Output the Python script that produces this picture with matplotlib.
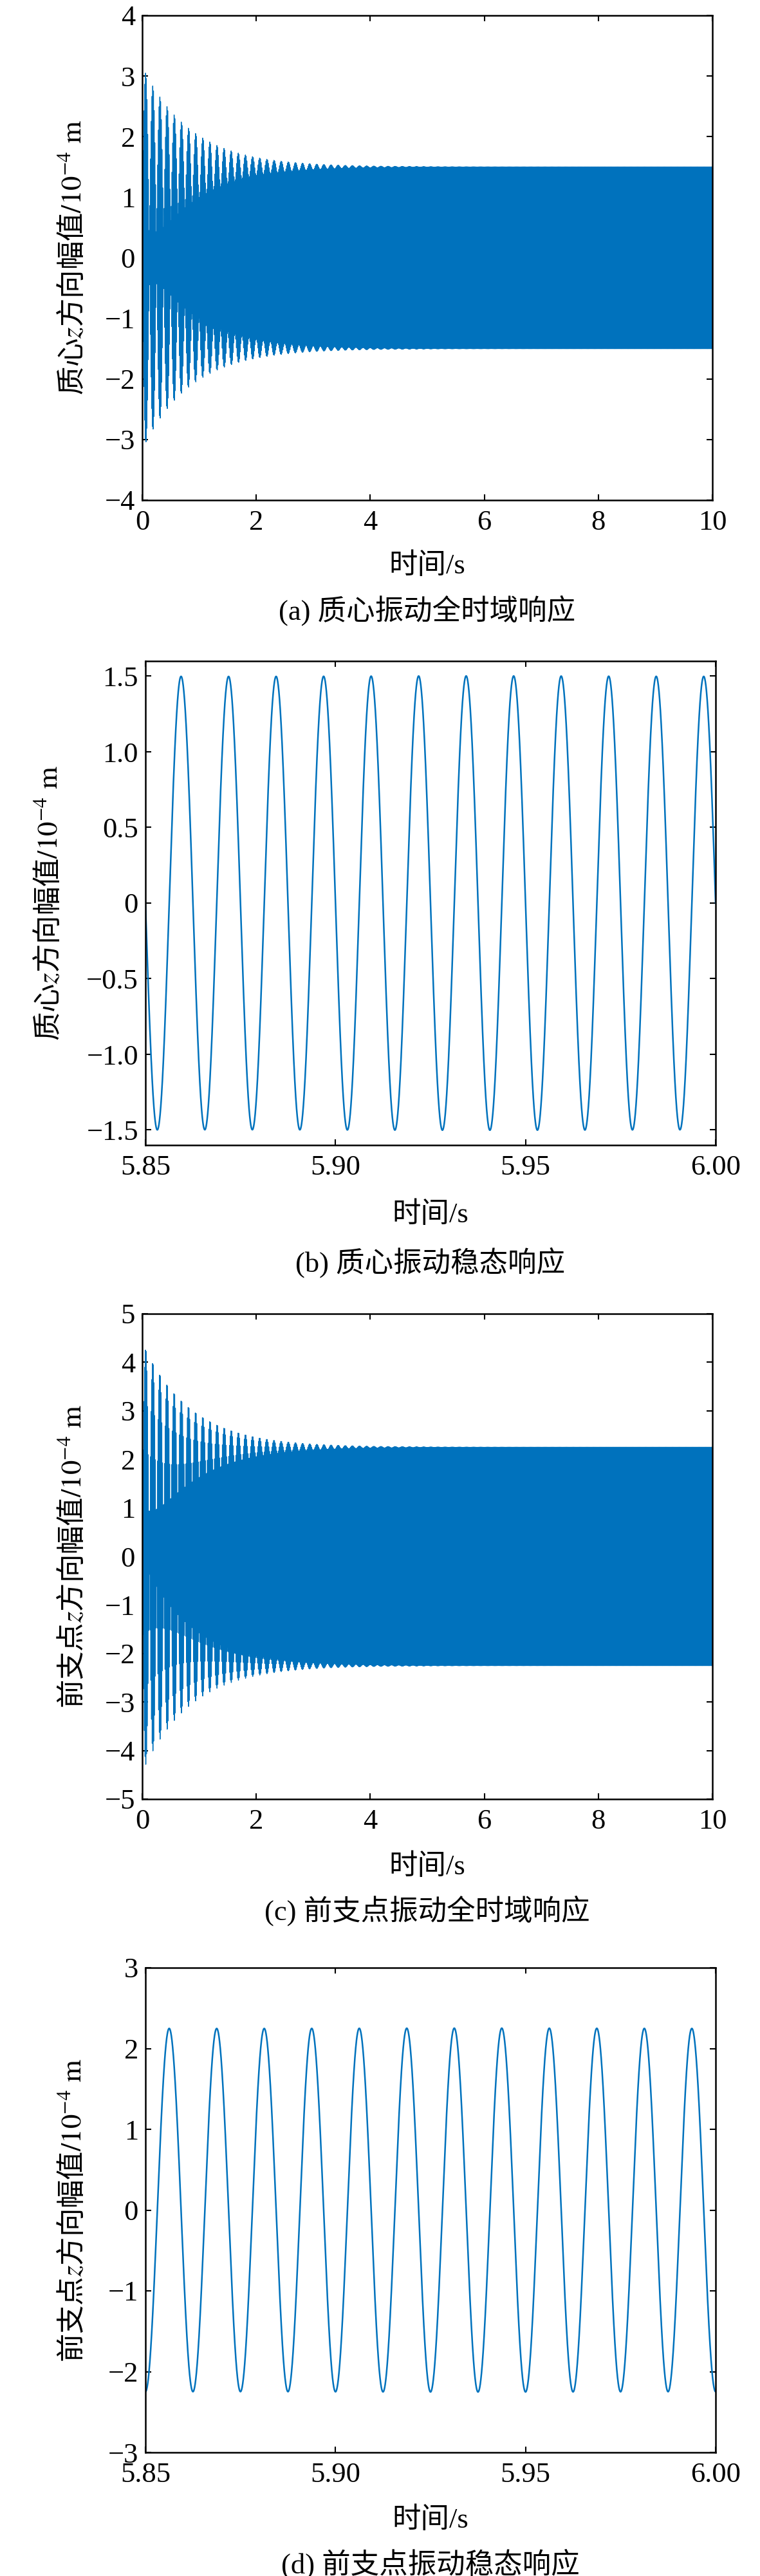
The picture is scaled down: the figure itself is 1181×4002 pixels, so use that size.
# 质心与前支点 z 向振动响应（全时域 + 稳态局部放大）

import numpy as np
import matplotlib
matplotlib.use('Agg')
import matplotlib.pyplot as plt

plt.rcParams['font.family'] = ['Liberation Serif', 'Noto Sans CJK SC']
plt.rcParams['mathtext.fontset'] = 'stix'
plt.rcParams['axes.unicode_minus'] = True

# 参数
f_force = 80.0      # 激励频率 Hz（稳态图中 0.15 s 内 12 个周期）
f_free = 88.0       # 自由振动频率 Hz（拍频约 8 Hz）
tau = 0.85          # 自由振动衰减时间常数 s
amp_cg = 1.5        # 质心稳态幅值 1e-4 m
amp_cg_tr = 1.67    # 质心初始瞬态幅值
amp_fr = 2.25       # 前支点稳态幅值
amp_fr_tr = 2.19    # 前支点初始瞬态幅值

t = np.arange(0, 10.0 + 1e-9, 2e-5)
w, wn = 2 * np.pi * f_force, 2 * np.pi * f_free
z_cg = -amp_cg * np.sin(w * t) + amp_cg_tr * np.exp(-t / tau) * np.sin(wn * t)
z_fr = -amp_fr * np.cos(w * t) + amp_fr_tr * np.exp(-t / tau) * np.cos(wn * t)

zsym = r'$z$'
unit = r'$/\mathrm{10}^{-4}\ \mathrm{m}$'
ylabels = ['质心' + zsym + '方向幅值' + unit, '质心' + zsym + '方向幅值' + unit,
           '前支点' + zsym + '方向幅值' + unit, '前支点' + zsym + '方向幅值' + unit]
captions = ['(a) 质心振动全时域响应', '(b) 质心振动稳态响应',
            '(c) 前支点振动全时域响应', '(d) 前支点振动稳态响应']
xlims = [(0, 10), (5.85, 6.0), (0, 10), (5.85, 6.0)]
xticks_full = [0, 2, 4, 6, 8, 10]
xticks_zoom = [5.85, 5.90, 5.95, 6.00]
xticklabels_zoom = ['5.85', '5.90', '5.95', '6.00']
ylims = [(-4, 4), (-1.6, 1.6), (-5, 5), (-3, 3)]
yticks = [[-4, -3, -2, -1, 0, 1, 2, 3, 4],
          [-1.5, -1.0, -0.5, 0, 0.5, 1.0, 1.5],
          [-5, -4, -3, -2, -1, 0, 1, 2, 3, 4, 5],
          [-3, -2, -1, 0, 1, 2, 3]]
yticklabels = [None,
               ['\u22121.5', '\u22121.0', '\u22120.5', '0', '0.5', '1.0', '1.5'],
               None, None]

W, H = 1181, 4002
fig = plt.figure(figsize=(W / 100, H / 100), dpi=100)

# 像素位置: 左, 右, 上, 下, y标签x, x标签y, 图注y
boxes = [(221, 1107, 24, 777, 113, 879, 948),
         (226, 1112, 1027, 1779, 76, 1887, 1961),
         (221, 1107, 2041, 2795, 113, 2900, 2968),
         (226, 1112, 3057, 3810, 113, 3915, 3983)]
series = [z_cg, z_cg, z_fr, z_fr]
fs = 32

for i, (l, r, tp, bt, yl, xl, cap) in enumerate(boxes):
    ax = fig.add_axes([l / W, 1 - bt / H, (r - l) / W, (bt - tp) / H])
    x0, x1 = xlims[i]
    m = (t >= x0 - 1e-4) & (t <= x1 + 1e-4)
    lw = 1.0 if i in (0, 2) else 1.8
    ax.plot(t[m], series[i][m], color='#0072BD', lw=lw)
    ax.set_xlim(x0, x1)
    ax.set_ylim(*ylims[i])
    if i in (0, 2):
        ax.set_xticks(xticks_full)
    else:
        ax.set_xticks(xticks_zoom)
        ax.set_xticklabels(xticklabels_zoom)
    ax.set_yticks(yticks[i])
    if yticklabels[i] is not None:
        ax.set_yticklabels(yticklabels[i])
    ax.tick_params(direction='in', top=True, right=True, length=6.5, width=1.5,
                   labelsize=fs)
    ax.tick_params(axis='x', pad=11)
    ax.tick_params(axis='y', pad=8)
    for s in ax.spines.values():
        s.set_linewidth(1.8)
    ax.set_xlabel('时间/s', fontsize=fs, va='center')
    ax.xaxis.set_label_coords((l + r) / 2 / W, 1 - xl / H, transform=fig.transFigure)
    ax.set_ylabel(ylabels[i], fontsize=fs, va='center', family='Noto Sans CJK SC')
    ax.yaxis.set_label_coords(yl / W, 1 - (tp + bt) / 2 / H, transform=fig.transFigure)
    fig.text((l + r) / 2 / W, 1 - cap / H, captions[i], fontsize=fs,
             ha='center', va='center')

fig.savefig('out.png', dpi=100)
